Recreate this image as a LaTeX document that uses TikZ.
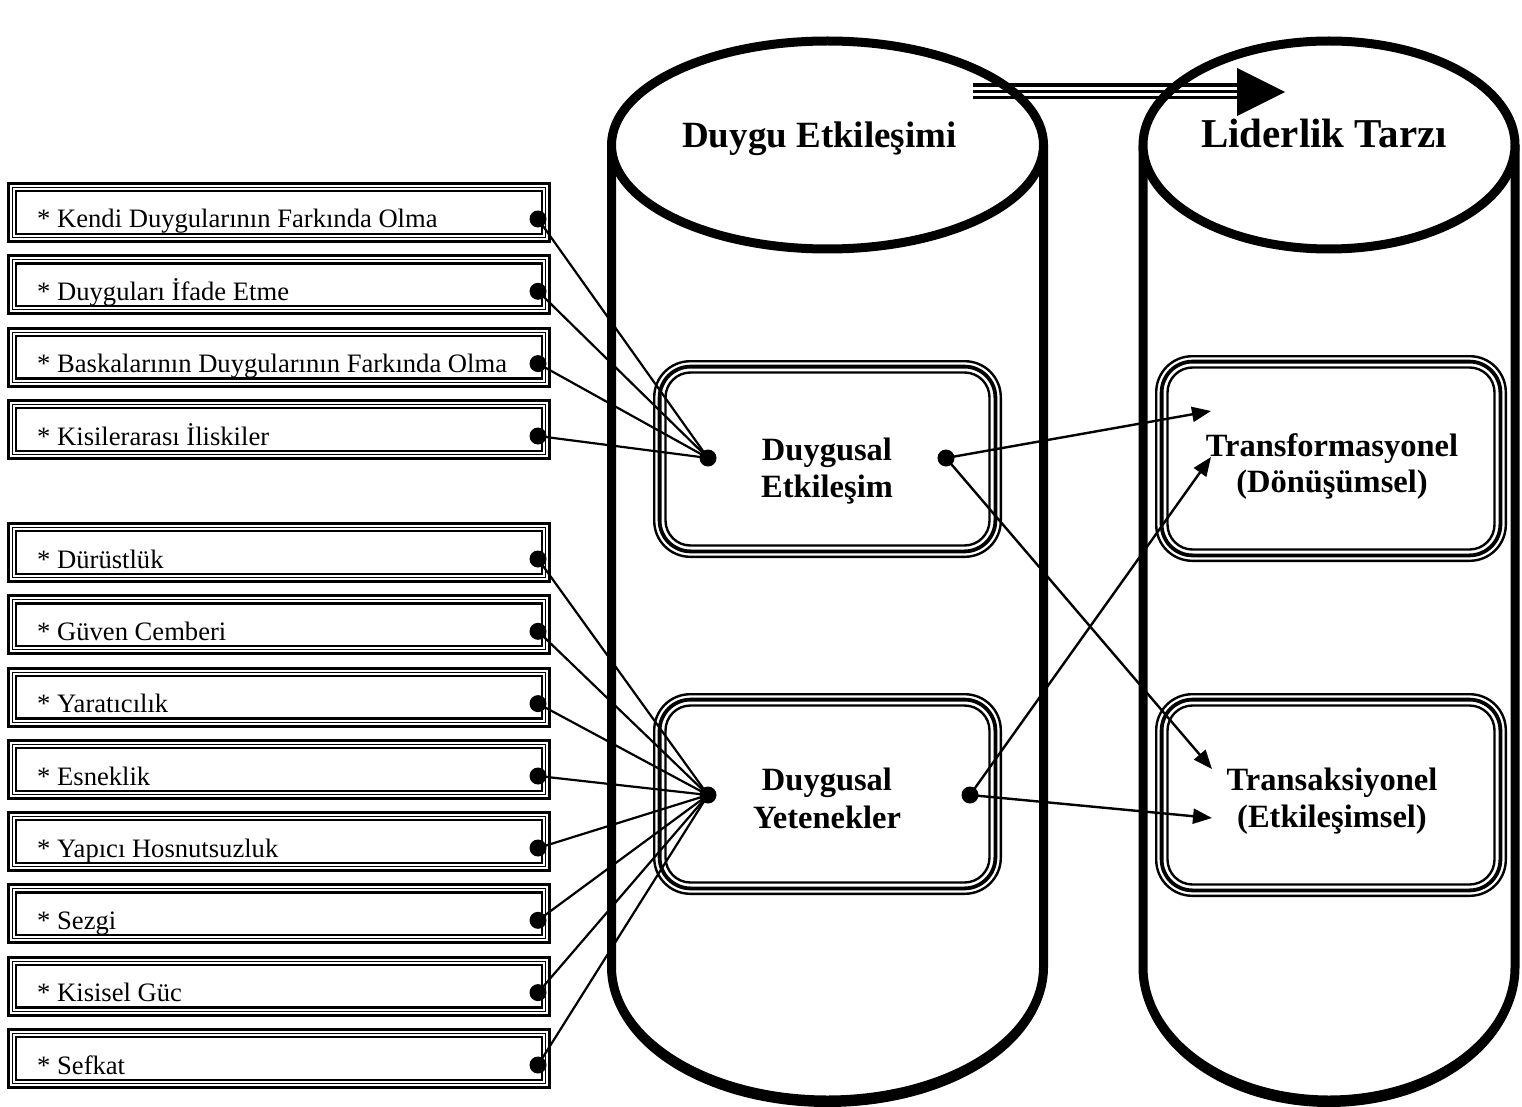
\documentclass[tikz,border=0pt]{standalone}
\usepackage{fontspec}
\setmainfont{Liberation Serif}
\usetikzlibrary{arrows.meta}

% three nested rounded frames around an inner box
\newcommand\triframe[4]{%
  \fill[white, rounded corners=36pt] (#1,#2) rectangle (#3,#4);
  \draw[line width=2.4pt, rounded corners=36pt] (#1+1.2,#2+1.2) rectangle (#3-1.2,#4-1.2);
  \draw[line width=3.8pt, rounded corners=31pt] (#1+6.6,#2+6.6) rectangle (#3-6.6,#4-6.6);
  \draw[line width=2.4pt, rounded corners=25pt] (#1+12.5,#2+12.5) rectangle (#3-12.5,#4-12.5);
}

\begin{document}
\begin{tikzpicture}[x=1pt,y=-1pt,
  cylline/.style={line width=9pt},
  itemtext/.style={anchor=base west, inner sep=0pt, font=\fontsize{26.6}{30}\selectfont},
  boxtext/.style={anchor=base, inner sep=0pt, font=\bfseries\fontsize{32.5}{38}\selectfont},
  titletext/.style={anchor=base, inner sep=0pt, font=\bfseries\fontsize{37}{44}\selectfont},
  dot/.style={circle, fill=black, inner sep=0pt, minimum size=17pt},
  conn/.style={line width=2.2pt},
  arr/.style={line width=2.4pt, -{Triangle[length=19pt, width=15pt]}}]

\fill[white] (0,0) rectangle (1522,1107);
\useasboundingbox (0,0) rectangle (1522,1107);

% the two cylinders
\foreach \cx/\rx in {827.5/216, 1329/186} {
  \fill[white] (\cx-\rx,145) -- (\cx-\rx,967)
      arc[start angle=180, end angle=0, x radius=\rx, y radius=133] -- (\cx+\rx,145);
  \draw[cylline] (\cx-\rx,145) -- (\cx-\rx,967)
      arc[start angle=180, end angle=0, x radius=\rx, y radius=133] -- (\cx+\rx,145);
  \draw[line width=6pt] (\cx-\rx,970)
      arc[start angle=180, end angle=0, x radius=\rx, y radius=134];
  \filldraw[fill=white, cylline] (\cx,145) ellipse[x radius=\rx, y radius=104];
}

\node[titletext] (title1) at (819.5,148) {Duygu Etkileşimi};
\node[titletext, font=\bfseries\fontsize{41}{48}\selectfont] (title2) at (1324,148) {Liderlik Tarzı};

% top arrow
\coordinate (ta) at (973,92);
\coordinate (tb) at (1237,92);
\draw[line width=3pt] ([yshift=-5.3pt]ta) -- ([yshift=-5.3pt]tb);
\draw[line width=3pt] (ta) -- (tb);
\draw[line width=4.5pt] ([yshift=7pt]ta) -- ([yshift=7pt]tb);
\fill (1237,68) -- (1285,92) -- (1237,116) -- cycle;

% inner boxes
\triframe{653}{360}{1002}{558}
\triframe{653}{693}{1002}{895}
\triframe{1155}{355}{1507}{562}
\triframe{1155}{693}{1507}{897}

\node[boxtext] (ea1) at (827,460) {Duygusal};
\node[boxtext] (ea2) at (827,497) {Etkileşim};
\node[boxtext] (ey1) at (827,790) {Duygusal};
\node[boxtext] (ey2) at (827,828) {Yetenekler};
\node[boxtext] (tr1) at (1332,456) {Transformasyonel};
\node[boxtext] (tr2) at (1332,492) {(Dönüşümsel)};
\node[boxtext] (ts1) at (1332,790) {Transaksiyonel};
\node[boxtext] (ts2) at (1332,827) {(Etkileşimsel)};

% left item boxes
\foreach \top/\txt [count=\i] in {
  182/{* Kendi Duygularının Farkında Olma},
  254.3/{* Duyguları İfade Etme},
  326.6/{* Baskalarının Duygularının Farkında Olma},
  399/{* Kisilerarası İliskiler},
  522/{* Dürüstlük},
  594.3/{* Güven Cemberi},
  666.6/{* Yaratıcılık},
  739/{* Esneklik},
  811/{* Yapıcı Hosnutsuzluk},
  883.3/{* Sezgi},
  955.6/{* Kisisel Güc},
  1028/{* Sefkat}} {
  \fill[white] (7,\top) rectangle (551,\top+61);
  \draw[line width=3pt] (8.5,\top+1.5) rectangle (549.5,\top+59.5);
  \draw[line width=1pt] (12.5,\top+5.5) rectangle (545.5,\top+55.5);
  \draw[line width=2.3pt] (16,\top+9.2) rectangle (542,\top+51.8);
  \begin{scope}
    \clip (17.2,\top+10.4) rectangle (540.8,\top+50.6);
    \node[itemtext] (t\i) at (37,\top+46) {\txt};
  \end{scope}
  \node[dot] (d\i) at (538,\top+37) {};
}

% hub dots inside the inner boxes
\node[dot] (eal) at (708,458) {};
\node[dot] (ear) at (946,458) {};
\node[dot] (eyl) at (708,795) {};
\node[dot] (eyr) at (970,795) {};

\foreach \i in {1,...,4} \draw[conn] (d\i.center) -- (eal.center);
\foreach \i in {5,...,12} \draw[conn] (d\i.center) -- (eyl.center);

\coordinate (trA) at (1211,411);
\coordinate (trB) at (1211,457);
\coordinate (tsA) at (1212,769);
\coordinate (tsB) at (1212,818);
\draw[arr] (ear.center) -- (trA);
\draw[arr] (ear.center) -- (tsA);
\draw[arr] (eyr.center) -- (trB);
\draw[arr] (eyr.center) -- (tsB);
\end{tikzpicture}
\end{document}
